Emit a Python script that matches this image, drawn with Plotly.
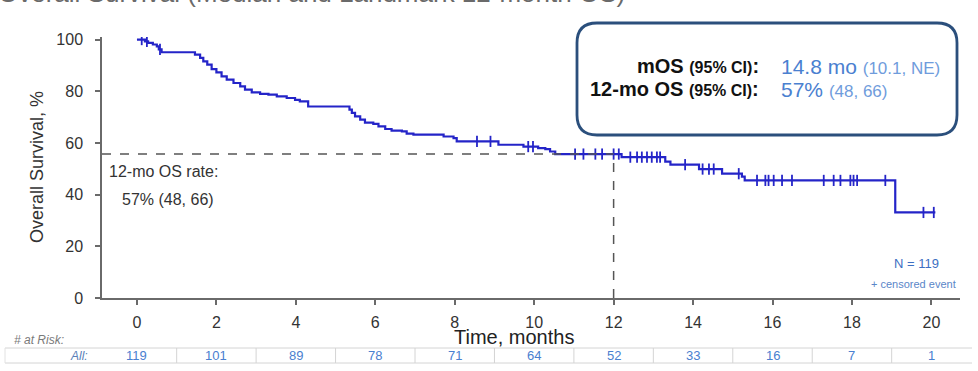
import plotly.graph_objects as go

# ---------------- data ----------------
event_times = [0, 0.2, 0.28, 0.4, 0.5, 0.55, 0.62, 1.46, 1.59, 1.67, 1.77, 1.88, 2.0, 2.13,
               2.26, 2.43, 2.6, 2.72, 2.89, 3.1, 3.31, 3.52, 3.77, 3.98, 4.1, 4.31, 5.35,
               5.41, 5.49, 5.62, 5.74, 5.95, 6.08, 6.25, 6.41, 6.67, 6.79, 6.96, 7.72, 7.97,
               8.05, 9.1, 9.73, 10.1, 10.28, 10.4, 10.53, 12.2, 13.3, 13.43, 14.15, 14.73,
               15.23, 15.3, 19.09]
event_surv = [100, 99.3, 98.7, 98.1, 97.4, 96.2, 95.1, 94.2, 92.9, 91.6, 90.3, 88.6, 87.3, 85.8,
              84.5, 83.2, 81.9, 80.6, 79.6, 79.0, 78.7, 78.0, 77.4, 76.7, 76.1, 74.1, 72.9,
              71.6, 70.3, 69.0, 67.9, 67.4, 66.4, 65.4, 64.8, 64.5, 63.6, 63.2, 62.5, 61.9,
              60.6, 59.3, 58.6, 58.0, 57.6, 56.7, 55.7, 54.5, 52.8, 51.6, 49.9, 48.1,
              47.0, 45.5, 33.1]
last_followup = 20.1
censor_times = [0.12, 0.25, 0.58, 8.56, 8.9, 9.85, 9.97, 11.03, 11.24, 11.54, 11.71, 12.0,
                12.13, 12.42, 12.59, 12.71, 12.84, 12.96, 13.09, 13.17, 13.8, 14.24, 14.4,
                14.52, 15.15, 15.61, 15.82, 15.9, 16.03, 16.24, 16.49, 17.29, 17.54, 17.71,
                17.96, 18.04, 18.13, 18.84, 19.8, 20.06]

risk_times = [0, 2, 4, 6, 8, 10, 12, 14, 16, 18, 20]
risk_counts = [119, 101, 89, 78, 71, 64, 52, 33, 16, 7, 1]
risk_cell_edges = [-1, 1, 3, 5, 7, 9, 11, 13, 15, 17, 19, 21]

x_ticks = [0, 2, 4, 6, 8, 10, 12, 14, 16, 18, 20]
y_ticks = [0, 20, 40, 60, 80, 100]
landmark_time = 12
landmark_surv = 55.7
x_range = [-0.88, 20.72]
y_range = [0, 101]

# ---------------- layout helpers ----------------
W, H = 978, 371
L, R, T, B = 102, 18, 37, 73
PW, PH = W - L - R, H - T - B
FONT = "Liberation Sans, Arial, sans-serif"
BLUE = "#2424c8"


def pxx(x):
    return (x - L) / PW


def pxy(y):
    return (H - B - y) / PH


def surv_at(t):
    s = event_surv[0]
    for et, es in zip(event_times, event_surv):
        if et <= t:
            s = es
    return s


fig = go.Figure()

fig.add_trace(go.Scatter(
    x=event_times + [last_followup], y=event_surv + [event_surv[-1]],
    mode="lines", line=dict(color=BLUE, width=2.2, shape="hv"),
    hoverinfo="skip", showlegend=False))

fig.add_trace(go.Scatter(
    x=censor_times, y=[surv_at(t) for t in censor_times],
    mode="markers",
    marker=dict(symbol="line-ns-open", size=8, color=BLUE, line=dict(color=BLUE, width=1.8)),
    hoverinfo="skip", showlegend=False))

shapes = []
# landmark dashed lines
shapes.append(dict(type="line", xref="x", yref="y", x0=x_range[0], x1=landmark_time,
                   y0=landmark_surv, y1=landmark_surv,
                   line=dict(color="#555555", width=1.5, dash="dash")))
shapes.append(dict(type="line", xref="x", yref="y", x0=landmark_time, x1=landmark_time,
                   y0=0, y1=landmark_surv,
                   line=dict(color="#555555", width=1.5, dash="dash")))


# rounded box
def rounded_rect(x0, y0, x1, y1, r):
    X = lambda v: pxx(v)
    Y = lambda v: pxy(v)
    p = (f"M {X(x0 + r)},{Y(y0)} L {X(x1 - r)},{Y(y0)} Q {X(x1)},{Y(y0)} {X(x1)},{Y(y0 + r)} "
         f"L {X(x1)},{Y(y1 - r)} Q {X(x1)},{Y(y1)} {X(x1 - r)},{Y(y1)} "
         f"L {X(x0 + r)},{Y(y1)} Q {X(x0)},{Y(y1)} {X(x0)},{Y(y1 - r)} "
         f"L {X(x0)},{Y(y0 + r)} Q {X(x0)},{Y(y0)} {X(x0 + r)},{Y(y0)} Z")
    return p


shapes.append(dict(type="path", xref="paper", yref="paper",
                   path=rounded_rect(577, 23, 957, 135, 20),
                   line=dict(color="#2b4f7c", width=2.8), fillcolor="white", layer="below"))

# risk table
tbl_top, tbl_bot = 348, 363
for yy in (tbl_top, tbl_bot):
    shapes.append(dict(type="line", xref="paper", yref="paper", x0=pxx(5), x1=pxx(972),
                       y0=pxy(yy), y1=pxy(yy), line=dict(color="#d4d4d4", width=1)))
shapes.append(dict(type="line", xref="paper", yref="paper", x0=pxx(5), x1=pxx(5),
                   y0=pxy(tbl_top), y1=pxy(tbl_bot), line=dict(color="#e2e2e2", width=1)))
for e in risk_cell_edges:
    shapes.append(dict(type="line", xref="x", yref="paper", x0=e, x1=e,
                       y0=pxy(tbl_top), y1=pxy(tbl_bot), line=dict(color="#d4d4d4", width=1)))

ann = []
# cut-off title at very top
ann.append(dict(xref="paper", yref="paper", x=pxx(-4), y=pxy(-7), xanchor="left", yanchor="middle",
                text="Overall Survival (Median and Landmark 12-month OS)", showarrow=False,
                font=dict(family=FONT, size=26, color="#6a6a6a")))
# axis titles
ann.append(dict(xref="paper", yref="paper", x=pxx(37), y=pxy(167), xanchor="center", yanchor="middle",
                text="Overall Survival, %", textangle=-90, showarrow=False,
                font=dict(family=FONT, size=18, color="#333333")))
ann.append(dict(xref="paper", yref="paper", x=pxx(514), y=pxy(337), xanchor="center", yanchor="middle",
                text="Time, months", showarrow=False,
                font=dict(family=FONT, size=20, color="#222222")))
# landmark text
ann.append(dict(xref="paper", yref="paper", x=pxx(107), y=pxy(172), xanchor="left", yanchor="middle",
                text="12-mo OS rate:", showarrow=False, font=dict(family=FONT, size=16, color="#333333")))
ann.append(dict(xref="paper", yref="paper", x=pxx(120), y=pxy(199), xanchor="left", yanchor="middle",
                text="57% (48, 66)", showarrow=False, font=dict(family=FONT, size=16, color="#333333")))
# box text
lab_style = "font-size:16px"
ann.append(dict(xref="paper", yref="paper", x=pxx(761), y=pxy(66), xanchor="right", yanchor="middle",
                text=f"<b>mOS <span style='{lab_style}'>(95% CI)</span>:</b>", showarrow=False,
                font=dict(family=FONT, size=20, color="#111111")))
ann.append(dict(xref="paper", yref="paper", x=pxx(761), y=pxy(89), xanchor="right", yanchor="middle",
                text=f"<b>12-mo OS <span style='{lab_style}'>(95% CI)</span>:</b>", showarrow=False,
                font=dict(family=FONT, size=20, color="#111111")))
ann.append(dict(xref="paper", yref="paper", x=pxx(779), y=pxy(66), xanchor="left", yanchor="middle",
                text="14.8 mo <span style='font-size:17px;color:#6f9cdc'>(10.1, NE)</span>", showarrow=False,
                font=dict(family=FONT, size=21, color="#4a80d0")))
ann.append(dict(xref="paper", yref="paper", x=pxx(779), y=pxy(89), xanchor="left", yanchor="middle",
                text="57% <span style='font-size:17px;color:#6f9cdc'>(48, 66)</span>", showarrow=False,
                font=dict(family=FONT, size=21, color="#4a80d0")))
# N and censor legend
ann.append(dict(xref="paper", yref="paper", x=pxx(941), y=pxy(263), xanchor="right", yanchor="middle",
                text="N = 119", showarrow=False, font=dict(family=FONT, size=13, color="#3d6fc2")))
ann.append(dict(xref="paper", yref="paper", x=pxx(958), y=pxy(284), xanchor="right", yanchor="middle",
                text="+ censored event", showarrow=False, font=dict(family=FONT, size=11, color="#5a86c8")))
# risk table
ann.append(dict(xref="paper", yref="paper", x=pxx(12), y=pxy(340), xanchor="left", yanchor="middle",
                text="<i># at Risk:</i>", showarrow=False, font=dict(family=FONT, size=12, color="#7a7a7a")))
ann.append(dict(xref="paper", yref="paper", x=pxx(90), y=pxy(355.5), xanchor="right", yanchor="middle",
                text="<i>All:</i>", showarrow=False, font=dict(family=FONT, size=12, color="#5a7fb8")))
for t, n in zip(risk_times, risk_counts):
    ann.append(dict(xref="x", yref="paper", x=t, y=pxy(355.5), xanchor="center", yanchor="middle",
                    text=str(n), showarrow=False, font=dict(family=FONT, size=13, color="#4a80d0")))

fig.update_layout(
    width=W, height=H, margin=dict(l=L, r=R, t=T, b=B),
    paper_bgcolor="white", plot_bgcolor="white",
    shapes=shapes, annotations=ann, showlegend=False,
    font=dict(family=FONT, color="#333333"),
)
fig.update_xaxes(range=x_range, tickvals=x_ticks, ticktext=[str(v) for v in x_ticks],
                 showgrid=False, zeroline=False, showline=True, linecolor="#6a6a6a", linewidth=1.5,
                 ticks="outside", ticklen=5, tickcolor="#6a6a6a", tickwidth=1.5,
                 ticklabelstandoff=4, tickfont=dict(family=FONT, size=16, color="#333333"))
fig.update_yaxes(range=y_range, tickvals=y_ticks, ticktext=[str(v) for v in y_ticks],
                 showgrid=False, zeroline=False, showline=True, linecolor="#6a6a6a", linewidth=1.5,
                 ticks="outside", ticklen=5, tickcolor="#6a6a6a", tickwidth=1.5,
                 ticklabelstandoff=9, tickfont=dict(family=FONT, size=16, color="#333333"))

fig.write_html("out.html")
